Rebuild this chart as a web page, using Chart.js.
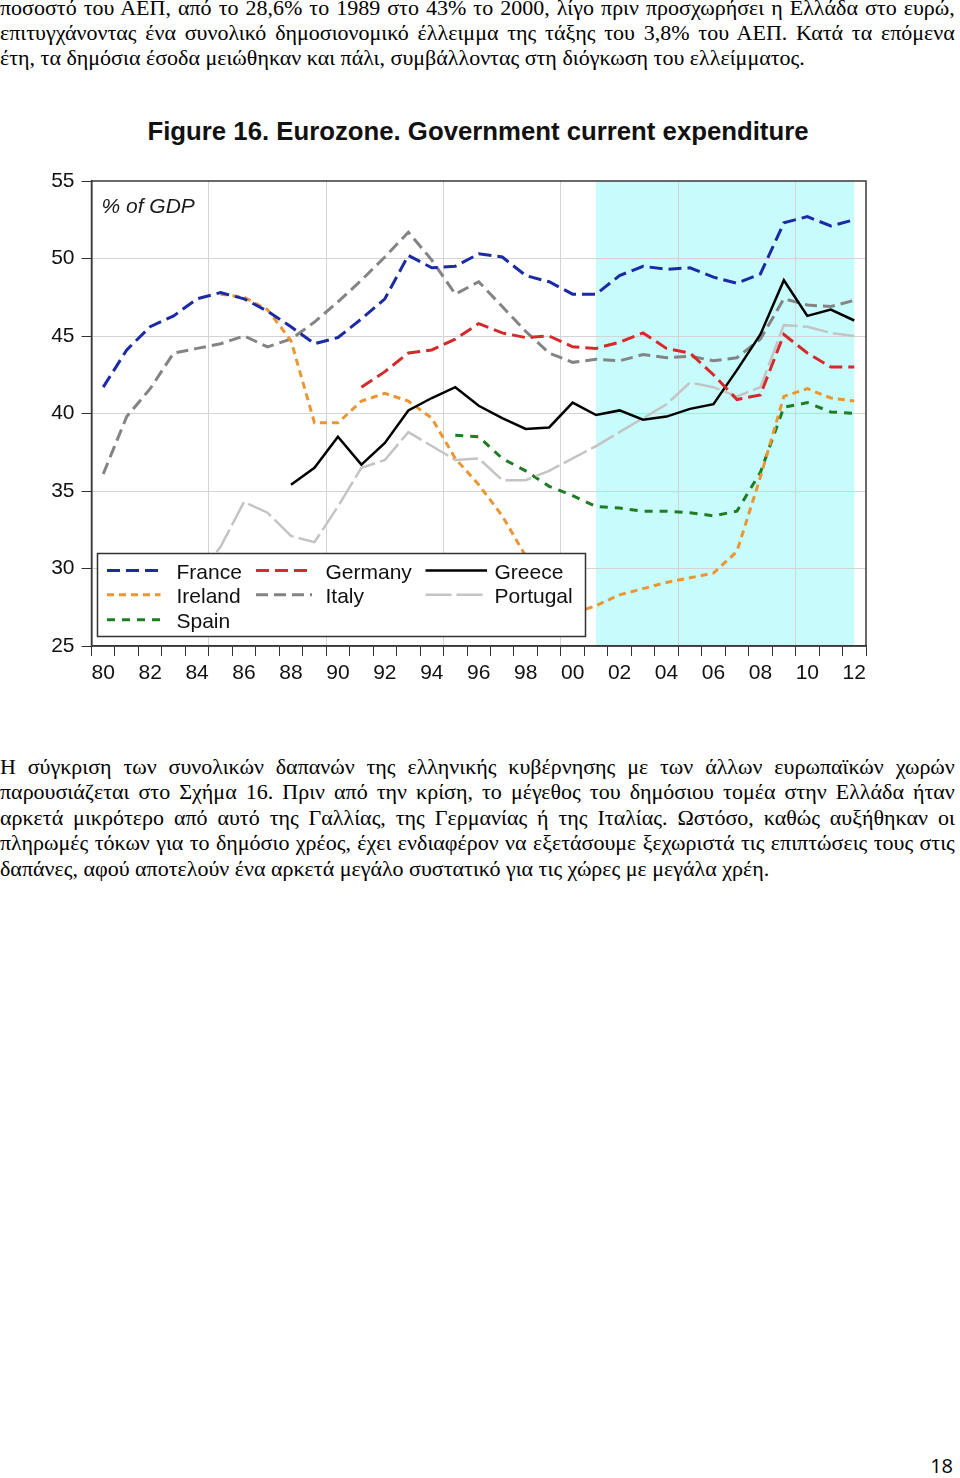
<!DOCTYPE html>
<html>
<head>
<meta charset="utf-8">
<script src="https://cdn.jsdelivr.net/npm/chart.js@4.4.1/dist/chart.umd.min.js"></script>
<style>
  body { margin: 0; width: 960px; height: 1478px; position: relative; background: #fff; overflow: hidden; }
  .txt { position: absolute; left: 0; width: 868px; transform: scaleX(1.1); transform-origin: 0 0;
         font-family: 'Liberation Serif', 'Times New Roman', serif; font-size: 20px; color: #000; }
  .txt div { text-align: justify; text-align-last: justify; }
  .txt div.last { text-align: left; text-align-last: left; }
  .txt div.tight { white-space: nowrap; }
  #top { top: -4.5px; line-height: 25px; }
  #bottom { top: 755px; line-height: 25.4px; }
  #title { position: absolute; left: 0; width: 956px; top: 119px; text-align: center; transform: scaleX(1.03);
           font-family: 'Liberation Sans', Arial, sans-serif; font-weight: bold; font-size: 25px; line-height: 25px;
           color: #111; white-space: nowrap; }
  #wrap { position: absolute; left: 0; top: 160px; width: 960px; height: 540px; }
  #page { position: absolute; right: 7px; top: 1454px; font-family: 'Open Sans', sans-serif; font-size: 20px; line-height: 24px; color: #000; }
</style>
</head>
<body>
<div class="txt" id="top">
  <div>ποσοστό του ΑΕΠ, από το 28,6% το 1989 στο 43% το 2000, λίγο πριν προσχωρήσει η Ελλάδα στο ευρώ,</div>
  <div>επιτυγχάνοντας ένα συνολικό δημοσιονομικό έλλειμμα της τάξης του 3,8% του ΑΕΠ. Κατά τα επόμενα</div>
  <div class="last">έτη, τα δημόσια έσοδα μειώθηκαν και πάλι, συμβάλλοντας στη διόγκωση του ελλείμματος.</div>
</div>

<div id="title">Figure 16. Eurozone. Government current expenditure</div>

<div id="wrap"><canvas id="chart"></canvas></div>

<div class="txt" id="bottom">
  <div>Η σύγκριση των συνολικών δαπανών της ελληνικής κυβέρνησης με των άλλων ευρωπαϊκών χωρών</div>
  <div>παρουσιάζεται στο Σχήμα 16. Πριν από την κρίση, το μέγεθος του δημόσιου τομέα στην Ελλάδα ήταν</div>
  <div>αρκετά μικρότερο από αυτό της Γαλλίας, της Γερμανίας ή της Ιταλίας. Ωστόσο, καθώς αυξήθηκαν οι</div>
  <div class="tight">πληρωμές τόκων για το δημόσιο χρέος, έχει ενδιαφέρον να εξετάσουμε ξεχωριστά τις επιπτώσεις τους στις</div>
  <div class="last">δαπάνες, αφού αποτελούν ένα αρκετά μεγάλο συστατικό για τις χώρες με μεγάλα χρέη.</div>
</div>

<div id="page">18</div>

<script>
// years 1980-2012
const years = ['80', '81', '82', '83', '84', '85', '86', '87', '88', '89',
               '90', '91', '92', '93', '94', '95', '96', '97', '98', '99',
               '00', '01', '02', '03', '04', '05', '06', '07', '08', '09',
               '10', '11', '12'];

const france = [41.7, 44.1, 45.6, 46.3, 47.4, 47.8, 47.4, 46.6, 45.6, 44.5,
                44.9, 46.1, 47.4, 50.2, 49.4, 49.5, 50.3, 50.1, 48.9, 48.5,
                47.7, 47.7, 48.9, 49.5, 49.3, 49.4, 48.8, 48.4, 49.0, 52.3,
                52.7, 52.1, 52.5];

const germany = [null, null, null, null, null, null, null, null, null, null,
                 null, 41.7, 42.7, 43.9, 44.1, 44.8, 45.8, 45.2, 44.9, 45.0,
                 44.3, 44.2, 44.6, 45.2, 44.2, 43.9, 42.5, 40.9, 41.2, 45.1,
                 43.9, 43.0, 43.0];

const greece = [null, null, null, null, null, null, null, null, 35.4, 36.5,
                38.5, 36.7, 38.1, 40.2, 41.0, 41.7, 40.5, 39.7, 39.0, 39.1,
                40.7, 39.9, 40.2, 39.6, 39.8, 40.3, 40.6, 42.8, 45.1, 48.6,
                46.3, 46.7, 46.0];

const ireland = [null, null, null, null, null, 47.7, 47.5, 46.7, 44.7, 39.4,
                 39.4, 40.8, 41.3, 40.8, 39.7, 37.1, 35.4, 33.4, 30.8, 28.8,
                 27.1, 27.6, 28.3, 28.7, 29.1, 29.4, 29.7, 31.1, 35.9, 41.1,
                 41.6, 41.0, 40.8];

const italy = [36.1, 39.8, 41.6, 43.9, 44.2, 44.5, 45.0, 44.3, 44.8, 45.9,
               47.2, 48.6, 50.1, 51.7, 49.9, 47.7, 48.5, 46.9, 45.3, 43.9,
               43.3, 43.5, 43.4, 43.8, 43.6, 43.7, 43.4, 43.6, 44.8, 47.4,
               47.0, 46.9, 47.3];

const portugal = [null, null, null, null, 29.5, 31.4, 34.3, 33.6, 32.1, 31.7,
                  34.0, 36.5, 37.0, 38.8, 37.9, 37.0, 37.1, 35.7, 35.7, 36.3,
                  37.1, 37.9, 38.8, 39.7, 40.6, 42.0, 41.7, 41.1, 41.7, 45.7,
                  45.6, 45.2, 45.0];

const spain = [null, null, null, null, null, null, null, null, null, null,
               null, null, null, null, null, 38.6, 38.5, 37.1, 36.3, 35.3,
               34.7, 34.0, 33.9, 33.7, 33.7, 33.6, 33.4, 33.7, 36.2, 40.4,
               40.7, 40.1, 40.0];

const shadeFrom = '01';
const shadeTo = '12';
const yTicks = [25, 30, 35, 40, 45, 50, 55];

const sans = "'Liberation Sans', Arial, sans-serif";

const line = (label, data, color, width, dash) => ({
    label: label,
    data: data,
    borderColor: color,
    backgroundColor: color,
    borderWidth: width,
    borderDash: dash,
    borderCapStyle: 'butt',
    pointRadius: 0,
    tension: 0,
    fill: false
});

const datasets = [
    line('France', france, '#1b2aa5', 3, [13, 6]),
    line('Germany', germany, '#d42a2a', 3, [13, 6]),
    line('Greece', greece, '#000000', 2.5, []),
    line('Ireland', ireland, '#ea9633', 3, [7, 5]),
    line('Italy', italy, '#848484', 3, [12, 6]),
    line('Portugal', portugal, '#c4c4c4', 2.5, [26, 5]),
    line('Spain', spain, '#1e7d23', 3, [8, 7])
];

// legend layout: rows of dataset indexes, one per column
const legendRows = [[0, 1, 2], [3, 4, 5], [6]];

const framePlugin = {
    id: 'frame',
    beforeDraw(chart) {
        const { ctx, chartArea: a, scales: { x } } = chart;
        const x0 = x.getPixelForValue(years.indexOf(shadeFrom));
        const x1 = x.getPixelForValue(years.indexOf(shadeTo));
        ctx.save();
        ctx.fillStyle = '#c8fbfb';
        ctx.fillRect(x0, a.top, x1 - x0, a.bottom - a.top);
        ctx.restore();
    },
    beforeDatasetsDraw(chart) {
        const { ctx, chartArea: a } = chart;
        ctx.save();
        ctx.strokeStyle = '#3a3a3a';
        ctx.lineWidth = 1.5;
        ctx.strokeRect(a.left, a.top, a.right - a.left, a.bottom - a.top);
        ctx.restore();
    },
    afterDatasetsDraw(chart) {
        const { ctx, chartArea: a } = chart;
        ctx.save();

        // unit label
        ctx.fillStyle = '#1a1a1a';
        ctx.font = 'italic 21px ' + sans;
        ctx.textBaseline = 'alphabetic';
        ctx.fillText('% of GDP', a.left + 10, a.top + 31.5);

        // legend box
        const bx = a.left + 6, bw = 488, bh = 83, by = a.bottom - 9.5 - bh;
        ctx.fillStyle = '#ffffff';
        ctx.fillRect(bx, by, bw, bh);
        ctx.strokeStyle = '#333';
        ctx.lineWidth = 1.5;
        ctx.strokeRect(bx, by, bw, bh);

        const cols = [
            { s0: 9.5, s1: 63, t: 79 },
            { s0: 158.5, s1: 214.5, t: 228 },
            { s0: 328, s1: 389.5, t: 397 }
        ];
        const rowY = [17, 41.3, 66.3];
        ctx.font = '21px ' + sans;
        legendRows.forEach((row, r) => {
            row.forEach((di, c) => {
                const ds = datasets[di];
                const col = cols[c];
                const yy = by + rowY[r];
                ctx.beginPath();
                ctx.strokeStyle = ds.borderColor;
                ctx.lineWidth = ds.borderWidth;
                ctx.setLineDash(ds.borderDash);
                ctx.moveTo(bx + col.s0, yy);
                ctx.lineTo(bx + col.s1, yy);
                ctx.stroke();
                ctx.setLineDash([]);
                ctx.fillStyle = '#111';
                ctx.fillText(ds.label, bx + col.t, yy + 8.3);
            });
        });
        ctx.restore();
    }
};

new Chart(document.getElementById('chart'), {
    type: 'line',
    data: { labels: years, datasets: datasets },
    plugins: [framePlugin],
    options: {
        responsive: true,
        maintainAspectRatio: false,
        animation: false,
        layout: { padding: { top: 21, right: 94, bottom: 0, left: 0 } },
        plugins: {
            legend: { display: false },
            tooltip: { enabled: false },
            title: { display: false }
        },
        scales: {
            x: {
                type: 'category',
                offset: true,
                grid: {
                    offset: true,
                    color: (c) => (c.index > 0 && c.index % 5 === 0) ? '#d4d4d4' : 'transparent',
                    tickColor: '#333',
                    tickLength: 10,
                    lineWidth: 1
                },
                border: { color: '#333', width: 1.5 },
                ticks: {
                    autoSkip: false,
                    maxRotation: 0,
                    padding: 5,
                    color: '#111',
                    font: { family: sans, size: 21 },
                    callback: (v, i) => (i % 2 === 0 ? years[i] : '')
                },
                afterFit: (s) => { s.height = 54; }
            },
            y: {
                min: yTicks[0],
                max: yTicks[yTicks.length - 1],
                afterBuildTicks: (s) => { s.ticks = yTicks.map(v => ({ value: v })); },
                grid: {
                    color: (c) => (c.tick && c.tick.value > 25 && c.tick.value < 55) ? '#d4d4d4' : 'transparent',
                    tickColor: '#333',
                    tickLength: 10,
                    lineWidth: 1
                },
                border: { color: '#333', width: 1.5 },
                ticks: {
                    padding: 7,
                    color: '#111',
                    font: { family: sans, size: 21 }
                },
                afterFit: (s) => { s.width = 91.5; }
            }
        }
    }
});
</script>
</body>
</html>
